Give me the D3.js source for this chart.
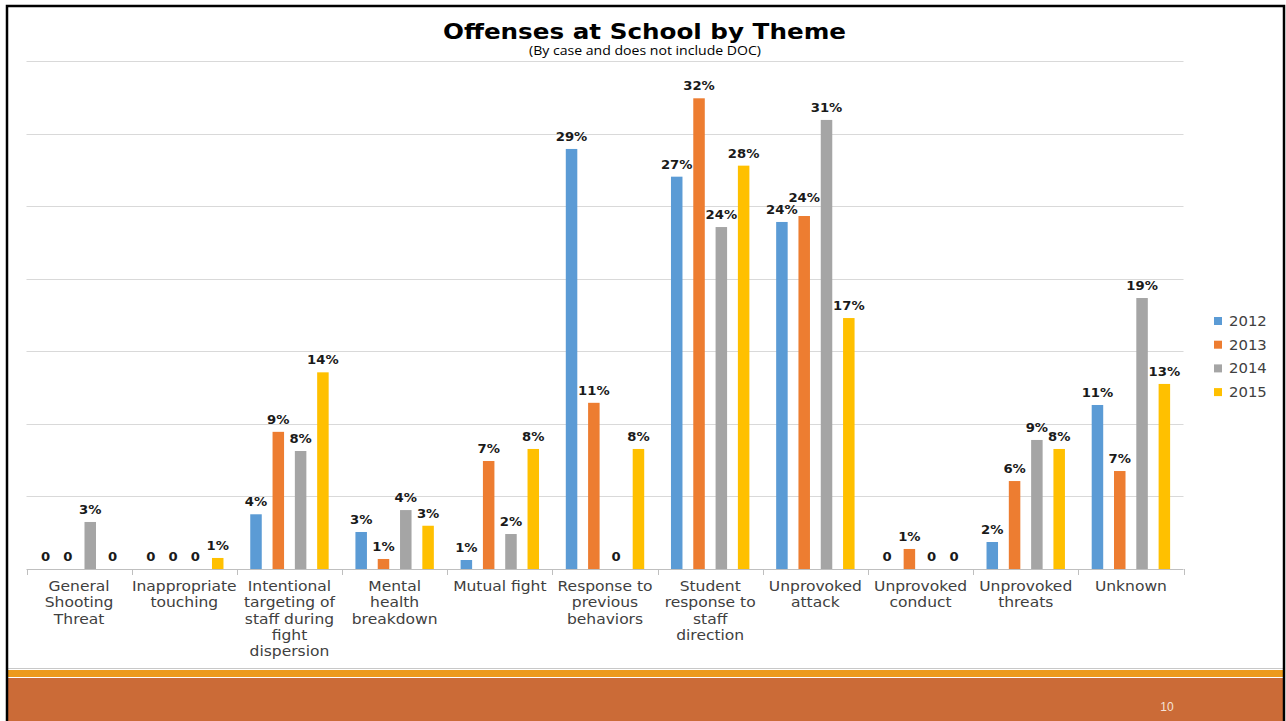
<!DOCTYPE html>
<html>
<head>
<meta charset="utf-8">
<script src="https://cdn.jsdelivr.net/npm/d3@7/dist/d3.min.js"></script>
<style>
  html, body { margin: 0; padding: 0; background: #ffffff; }
  svg { display: block; }
</style>
</head>
<body>
<svg id="chart" width="1286" height="721"></svg>
<script>
// Category names ("\n" marks where the axis label wraps)
const categories = [
  "General\nShooting\nThreat",
  "Inappropriate\ntouching",
  "Intentional\ntargeting of\nstaff during\nfight\ndispersion",
  "Mental\nhealth\nbreakdown",
  "Mutual fight",
  "Response to\nprevious\nbehaviors",
  "Student\nresponse to\nstaff\ndirection",
  "Unprovoked\nattack",
  "Unprovoked\nconduct",
  "Unprovoked\nthreats",
  "Unknown"
];

const years = ["2012", "2013", "2014", "2015"];

// Share of cases per theme (%), one array per year; labels show whole percents
const values2012 = [0, 0, 3.77, 2.55, 0.62, 28.94, 27.03, 23.91, 0, 1.86, 11.3];
const values2013 = [0, 0, 9.45, 0.69, 7.44, 11.45, 32.43, 24.32, 1.38, 6.06, 6.75];
const values2014 = [3.24, 0, 8.13, 4.06, 2.41, 0, 23.56, 30.94, 0, 8.89, 18.67];
const values2015 = [0, 0.76, 13.55, 2.98, 8.27, 8.27, 27.79, 17.29, 0, 8.27, 12.75];

const yearColors = ["#5b9bd5", "#ed7d31", "#a5a5a5", "#ffc000"];
const gridTicks = [5, 10, 15, 20, 25, 30, 35];

const series = [values2012, values2013, values2014, values2015];
const fmtValue = v => v === 0 ? "0" : Math.round(v) + "%";

const svg = d3.select("#chart");

// Scales
const x0 = d3.scaleBand().domain(categories).range([26.5, 1183.5]).padding(0);
const x1 = d3.scaleBand().domain(years).range([0, x0.bandwidth()])
  .paddingInner(0.484).paddingOuter(0.6);
const y = d3.scaleLinear().domain([0, 35]).range([569, 61]);

// Footer band
svg.append("line")
  .attr("x1", 8).attr("x2", 1283).attr("y1", 668.5).attr("y2", 668.5)
  .attr("stroke", "#c8c8c8").attr("stroke-width", 1);
svg.append("rect")
  .attr("x", 8).attr("y", 670).attr("width", 1275).attr("height", 7)
  .attr("fill", "#ec9a1c");
svg.append("rect")
  .attr("x", 8).attr("y", 678).attr("width", 1275).attr("height", 43)
  .attr("fill", "#cb6b37");
svg.append("text")
  .attr("x", 1167).attr("y", 711)
  .attr("text-anchor", "middle")
  .attr("font-family", "'Liberation Sans Narrow', 'Liberation Sans', sans-serif")
  .attr("font-size", 12)
  .attr("fill", "#f6e3d8")
  .text("10");

// Slide frame
svg.append("rect")
  .attr("x", 7).attr("y", 6).attr("width", 1277).attr("height", 740)
  .attr("fill", "none").attr("stroke", "#000").attr("stroke-width", 2.5);

// Title
svg.append("text")
  .attr("x", 644.5).attr("y", 38.5)
  .attr("text-anchor", "middle")
  .attr("font-family", "'DejaVu Sans', sans-serif")
  .attr("font-weight", "bold")
  .attr("font-size", 21)
  .attr("textLength", 403).attr("lengthAdjust", "spacingAndGlyphs")
  .attr("fill", "#000")
  .text("Offenses at School by Theme");
svg.append("text")
  .attr("x", 645).attr("y", 55)
  .attr("text-anchor", "middle")
  .attr("font-family", "'Open Sans', sans-serif")
  .attr("font-size", 12.5)
  .attr("textLength", 232).attr("lengthAdjust", "spacingAndGlyphs")
  .attr("fill", "#000")
  .text("(By case and does not include DOC)");

// Horizontal gridlines
svg.append("g").selectAll("line")
  .data(gridTicks)
  .join("line")
  .attr("x1", 26.5).attr("x2", 1183.5)
  .attr("y1", d => Math.round(y(d)) + 0.5).attr("y2", d => Math.round(y(d)) + 0.5)
  .attr("stroke", "#d9d9d9").attr("stroke-width", 1);

// Category axis with tick marks at group boundaries
const axisG = svg.append("g");
axisG.append("line")
  .attr("x1", 26.5).attr("x2", 1183.5).attr("y1", y(0) + 0.5).attr("y2", y(0) + 0.5)
  .attr("stroke", "#bfbfbf");
const boundaries = categories.map(c => x0(c)).concat([x0.range()[1]]);
axisG.selectAll("line.tick")
  .data(boundaries)
  .join("line")
  .attr("class", "tick")
  .attr("x1", d => Math.round(d) + 0.5).attr("x2", d => Math.round(d) + 0.5)
  .attr("y1", y(0)).attr("y2", y(0) + 6)
  .attr("stroke", "#bfbfbf");

// Bars and value labels
const groups = svg.append("g").selectAll("g")
  .data(categories)
  .join("g")
  .attr("transform", c => `translate(${x0(c)},0)`);

const cells = groups.selectAll("g")
  .data((c, i) => years.map((yr, s) => ({ yr, s, v: series[s][i] })))
  .join("g");

cells.append("rect")
  .attr("x", d => x1(d.yr))
  .attr("y", d => y(d.v))
  .attr("width", x1.bandwidth())
  .attr("height", d => y(0) - y(d.v))
  .attr("fill", d => yearColors[d.s]);

const labelScaleX = 1.1;
cells.append("text")
  .attr("class", "value")
  .attr("text-anchor", "middle")
  .attr("font-family", "'DejaVu Sans', sans-serif")
  .attr("font-weight", "bold")
  .attr("font-size", 12)
  .attr("fill", "#1a1a1a")
  .text(d => fmtValue(d.v))
  .each(function (d) {
    d.cx = x1(d.yr) + x1.bandwidth() / 2;
    d.base = y(d.v) - 8;
    d.w = this.getComputedTextLength() * labelScaleX;
  });

// Lift a value label when it would collide with its left neighbour
groups.each(function () {
  const items = d3.select(this).selectAll("text.value").data();
  for (let k = 1; k < items.length; k++) {
    const a = items[k - 1], b = items[k];
    const hOverlap = Math.abs(b.cx - a.cx) < (a.w + b.w) / 2 - 1;
    if (hOverlap && Math.abs(b.base - a.base) < 11) {
      b.base = Math.min(b.base, a.base - 12);
    }
  }
});
svg.selectAll("text.value")
  .attr("transform", d => `translate(${d.cx},${d.base}) scale(${labelScaleX},1)`);

// Category labels (slightly widened lettering)
const labels = svg.append("g").selectAll("text")
  .data(categories)
  .join("text")
  .attr("transform", c => `translate(${x0(c) + x0.bandwidth() / 2},591) scale(1.15,1)`)
  .attr("x", 0).attr("y", 0)
  .attr("text-anchor", "middle")
  .attr("font-family", "'DejaVu Sans', sans-serif")
  .attr("font-size", 13.5)
  .attr("fill", "#404040");
labels.selectAll("tspan")
  .data(c => c.split("\n"))
  .join("tspan")
  .attr("x", 0)
  .attr("dy", (d, i) => i === 0 ? 0 : 16.3)
  .text(d => d);

// Legend
const legend = svg.append("g").selectAll("g")
  .data(years)
  .join("g")
  .attr("transform", (d, i) => `translate(1214,${321 + i * 23.7})`);
legend.append("rect")
  .attr("x", 0).attr("y", -4).attr("width", 8).attr("height", 8)
  .attr("fill", (d, i) => yearColors[i]);
legend.append("text")
  .attr("transform", "translate(15,0) scale(1.1,1)")
  .attr("dy", "0.36em")
  .attr("font-family", "'DejaVu Sans', sans-serif")
  .attr("font-size", 13.5)
  .attr("fill", "#404040")
  .text(d => d);
</script>
</body>
</html>
